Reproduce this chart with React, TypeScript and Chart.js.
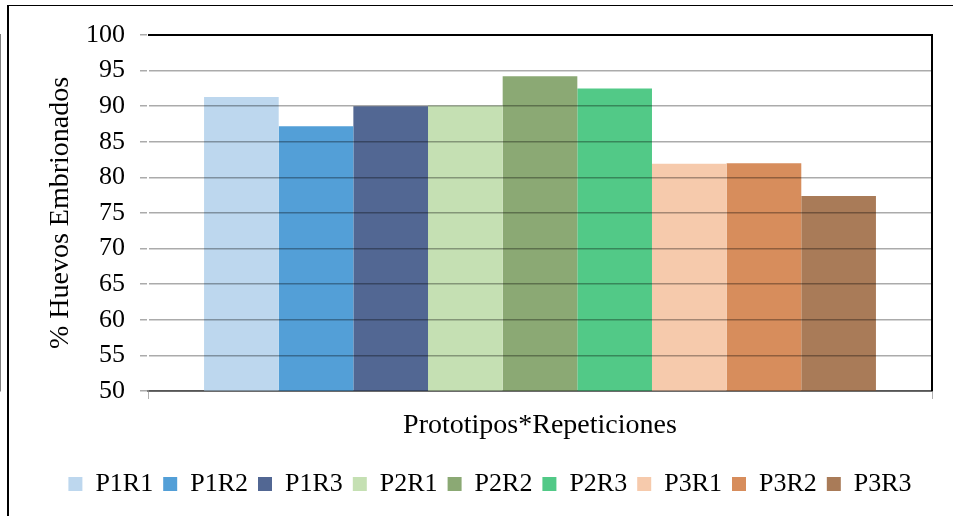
import React, { useEffect, useRef } from "react";
import { Chart, registerables } from "chart.js";

Chart.register(...registerables);

const categories = [""];
const seriesLabels = ["P1R1", "P1R2", "P1R3", "P2R1", "P2R2", "P2R3", "P3R1", "P3R2", "P3R3"];
const seriesValues = [91.3, 87.2, 90.0, 90.1, 94.2, 92.5, 81.9, 82.0, 77.4];
const seriesColors = ["#BDD7EE", "#539FD7", "#526793", "#C5E0B3", "#8BA974", "#52C987", "#F6CAAC", "#D78D5C", "#A97B58"];
const yTitle = "% Huevos Embrionados";
const xTitle = "Prototipos*Repeticiones";
const yMin = 50;
const yMax = 100;
const yStep = 5;

const FONT = "'Liberation Serif', 'Times New Roman', serif";

const borders = {
  id: "borders",
  beforeDraw(chart: any) {
    const ctx = chart.ctx;
    ctx.save();
    ctx.fillStyle = "#ffffff";
    ctx.fillRect(0, 0, chart.width, chart.height);
    ctx.restore();
  },
  afterDraw(chart: any) {
    const ctx = chart.ctx;
    const a = chart.chartArea;
    ctx.save();
    ctx.fillStyle = "#000000";
    ctx.fillRect(7, 5, 2, chart.height - 5);
    ctx.fillRect(7, 5, chart.width - 7, 1);
    ctx.fillRect(a.left, a.top - 1, a.right - a.left + 1, 2);
    ctx.fillRect(a.right - 1, a.top - 1, 2, a.bottom - a.top + 1);
    ctx.restore();
  },
};

export default function App() {
  const ref = useRef<HTMLCanvasElement>(null);
  useEffect(() => {
    document.body.style.margin = "0";
    document.body.style.overflow = "hidden";
    const canvas = ref.current;
    if (!canvas) return;
    const chart = new Chart(canvas, {
      type: "bar",
      data: {
        labels: categories,
        datasets: seriesLabels.map((label, i) => ({
          label,
          data: [seriesValues[i]],
          backgroundColor: seriesColors[i],
          borderWidth: 0,
          categoryPercentage: 0.857,
          barPercentage: 1,
        })),
      },
      options: {
        animation: false,
        responsive: false,
        devicePixelRatio: 1,
        layout: { padding: { left: 48, right: 21, top: 35, bottom: 9 } },
        plugins: {
          legend: {
            position: "bottom",
            labels: {
              boxWidth: 14,
              boxHeight: 14,
              padding: 10,
              color: "#000",
              font: { family: FONT, size: 26 },
            },
          },
          tooltip: { enabled: false },
        },
        scales: {
          x: {
            offset: true,
            grid: {
              offset: true,
              drawOnChartArea: false,
              drawTicks: true,
              tickLength: 8,
              color: "#b0b0b0",
            },
            border: { color: "#808080", width: 2 },
            ticks: { display: false },
            title: {
              display: true,
              text: xTitle,
              color: "#000",
              font: { family: FONT, size: 28 },
              padding: { top: 0, bottom: 19 },
            },
            afterFit: (scale: any) => {
              scale.height = 70;
            },
          },
          y: {
            min: yMin,
            max: yMax,
            grid: {
              color: "rgba(0,0,0,0.33)",
              lineWidth: 1.5,
              tickLength: 8,
              z: 1,
            },
            border: { color: "#808080", width: 2 },
            ticks: {
              stepSize: yStep,
              padding: 15,
              color: "#000",
              font: { family: FONT, size: 26 },
            },
            title: {
              display: true,
              text: yTitle,
              color: "#000",
              font: { family: FONT, size: 28, lineHeight: 0.9 },
              padding: { top: 0, bottom: 0 },
            },
            afterFit: (scale: any) => {
              scale.width = 100;
            },
          },
        },
      },
      plugins: [borders],
    });
    return () => chart.destroy();
  }, []);
  return (
    <div style={{ position: "relative", width: 953, height: 516 }}>
      <canvas ref={ref} width={953} height={516} style={{ display: "block" }} />
      <div
        style={{
          position: "absolute",
          left: 8,
          top: 5,
          width: 945,
          height: 511,
          borderLeft: "1px solid #000",
          borderTop: "1px solid #000",
          boxSizing: "border-box",
          pointerEvents: "none",
        }}
      />
    </div>
  );
}
